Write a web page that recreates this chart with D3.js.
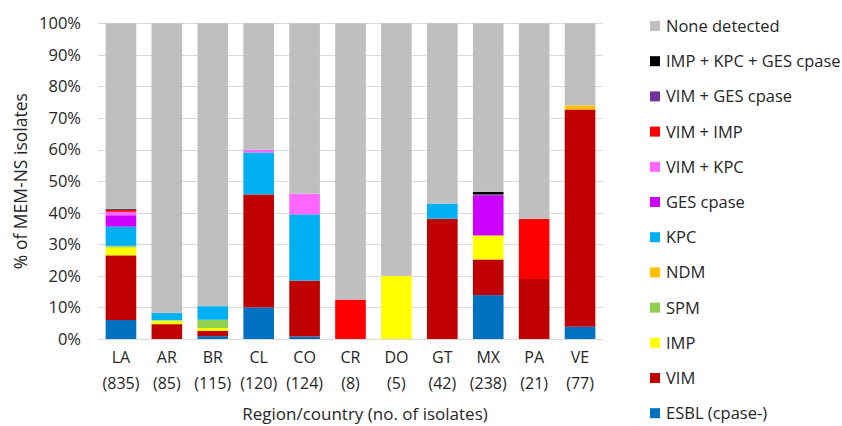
<!DOCTYPE html>
<html><head><meta charset="utf-8">
<script src="https://cdn.jsdelivr.net/npm/d3@7"></script>
<style>body{margin:0;background:#fff}svg text{font-family:"Open Sans",sans-serif;fill:#262626}</style>
</head><body><svg id="c" width="842" height="426"></svg>
<script>
const countries = ["LA","AR","BR","CL","CO","CR","DO","GT","MX","PA","VE"];
const isolates = [835,85,115,120,124,8,5,42,238,21,77];
const seriesNames = ["ESBL (cpase-)","VIM","IMP","SPM","NDM","KPC","GES cpase","VIM + KPC","VIM + IMP","VIM + GES cpase","IMP + KPC + GES cpase","None detected"];
const esbl   = [6.0,0,0.9,10.0,0.8,0,0,0,13.9,0,3.9];
const vim    = [20.5,4.7,1.7,35.8,17.7,0,0,38.1,11.3,19.0,68.8];
const imp    = [2.5,1.2,0.9,0,0,0,20.0,0,7.6,0,0];
const spm    = [0.4,0,2.6,0,0,0,0,0,0,0,0];
const ndm    = [0.1,0,0,0,0,0,0,0,0,0,1.3];
const kpc    = [6.1,2.4,4.3,13.3,21.0,0,0,4.8,0,0,0];
const ges    = [3.6,0,0,0,0,0,0,0,12.6,0,0];
const vimKpc = [1.1,0,0,0.8,6.5,0,0,0,0,0,0];
const vimImp = [0.6,0,0,0,0,12.5,0,0,0,19.0,0];
const vimGes = [0.1,0,0,0,0,0,0,0,0.4,0,0];
const impKpcGes = [0.2,0,0,0,0,0,0,0,0.8,0,0];
const yTicks = [0,10,20,30,40,50,60,70,80,90,100];
const colors = ["#0070C0","#C00000","#FFFF00","#92D050","#FFC000","#00B0F0","#CC00FF","#FF66FF","#FF0000","#7030A0","#000000","#BFBFBF"];

const known = [esbl,vim,imp,spm,ndm,kpc,ges,vimKpc,vimImp,vimGes,impKpcGes];
const none = countries.map((c,i)=>100 - known.reduce((s,a)=>s+a[i],0));
const all = known.concat([none]);
const rows = countries.map((c,i)=>{const r={c}; seriesNames.forEach((n,k)=>r[n]=all[k][i]); return r;});
const stack = d3.stack().keys(seriesNames)(rows);

const svg = d3.select("#c");
const L=98,R=603,T=23.3,B=339;
const x = d3.scaleBand().domain(countries).range([L,R]).paddingInner(0.333).paddingOuter(0.1665);
const y = d3.scaleLinear().domain([0,100]).range([B,T]);

svg.append("g").selectAll("line").data(yTicks).join("line")
  .attr("x1",L).attr("x2",R).attr("y1",d=>Math.round(y(d))+0.5).attr("y2",d=>Math.round(y(d))+0.5)
  .attr("stroke","#D9D9D9").attr("stroke-width",1);

svg.append("g").selectAll("g").data(stack).join("g").attr("fill",(d,i)=>colors[i])
  .selectAll("rect").data(d=>d).join("rect")
  .attr("x",d=>x(d.data.c)).attr("width",x.bandwidth())
  .attr("y",d=>y(d[1])).attr("height",d=>Math.max(0,y(d[0])-y(d[1])));

const yAxis = d3.axisLeft(y).tickValues(yTicks).tickFormat(d=>d+"%").tickSize(0).tickPadding(0);
const ga = svg.append("g").attr("transform",`translate(${L-17},0)`).call(yAxis);
ga.select(".domain").remove();
ga.selectAll("text").attr("font-size",16.5).attr("fill","#262626").attr("font-family","Open Sans");

const xAxis = d3.axisBottom(x).tickSize(0).tickFormat("");
const gx = svg.append("g").attr("transform",`translate(0,${B})`).call(xAxis);
gx.select(".domain").remove();
gx.selectAll(".tick").each(function(d,i){
  const t=d3.select(this);
  t.append("text").attr("y",24).attr("text-anchor","middle").attr("font-size",16).text(d);
  t.append("text").attr("y",50).attr("text-anchor","middle").attr("font-size",16).text("("+isolates[i]+")");
});

svg.append("text").attr("transform",`translate(27,${(T+B)/2}) rotate(-90)`).attr("text-anchor","middle")
  .attr("font-size",17.5).text("% of MEM-NS isolates");
svg.append("text").attr("x",365).attr("y",420).attr("text-anchor","middle").attr("font-size",17).text("Region/country (no. of isolates)");

const legendOrder = seriesNames.map((n,i)=>i).reverse();
const lg = svg.append("g").selectAll("g").data(legendOrder).join("g")
  .attr("transform",(d,j)=>`translate(650,${26+j*35.2})`);
lg.append("rect").attr("x",0).attr("y",-5).attr("width",10).attr("height",10).attr("fill",d=>colors[d]);
lg.append("text").attr("x",16).attr("y",0).attr("dy","0.36em").attr("font-size",16.5).text(d=>seriesNames[d]);
</script></body></html>
